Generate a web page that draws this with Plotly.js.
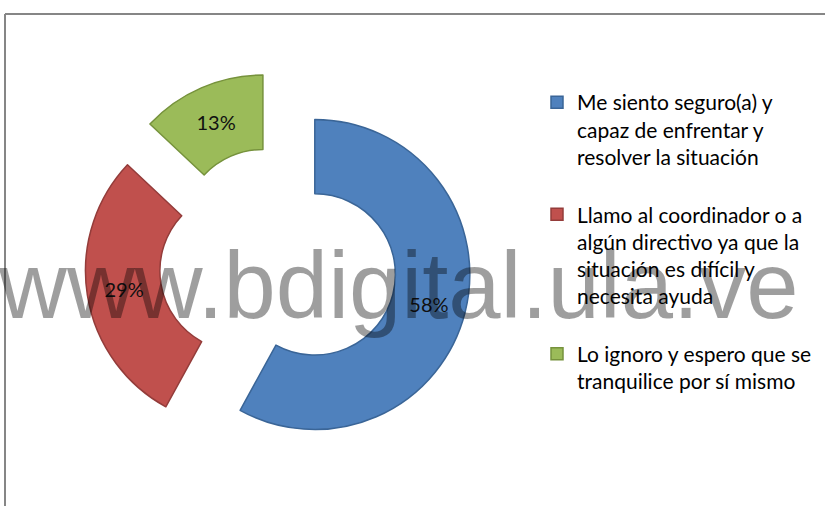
<!DOCTYPE html>
<html>
<head>
<meta charset="utf-8">
<script src="https://cdn.plot.ly/plotly-3.0.1.min.js"></script>
<style>
  html, body { margin: 0; padding: 0; background: #fff; }
  #grafico { width: 825px; height: 506px; }
</style>
</head>
<body>
<div id="grafico"></div>
<script>
// Respuestas de la encuesta (porcentajes)
const categorias = [
    'Me siento seguro(a) y<br>capaz de enfrentar y<br>resolver la situación<br> ',
    'Llamo al coordinador o a<br>algún directivo ya que la<br>situación es difícil y<br>necesita ayuda<br> ',
    'Lo ignoro y espero que se<br>tranquilice por sí mismo'
];
const valores = [58, 29, 13];
const colores = ['#4F81BD', '#C0504D', '#9BBB59'];
const bordes = ['#3A6597', '#943C3A', '#76923C'];

const data = [
    {
        type: 'pie',
        labels: categorias,
        values: valores,
        sort: false,
        direction: 'clockwise',
        rotation: 0,
        hole: 0.52,
        pull: 0.245,
        textinfo: 'percent',
        textposition: 'inside',
        insidetextorientation: 'horizontal',
        textfont: { family: 'Lato', size: 20, color: '#111' },
        marker: {
            colors: colores,
            line: { color: bordes, width: 1.5 }
        },
        domain: { x: [85 / 825, 471 / 825], y: [1 - 458 / 506, 1 - 72 / 506] }
    }
];

const layout = {
    width: 825,
    height: 506,
    margin: { l: 0, r: 0, t: 0, b: 0 },
    paper_bgcolor: '#ffffff',
    showlegend: true,
    legend: {
        x: 537 / 825,
        xanchor: 'left',
        y: 1 - 82 / 506,
        yanchor: 'top',
        valign: 'top',
        font: { family: 'Lato', size: 21, color: '#000' },
        bgcolor: 'rgba(0,0,0,0)'
    },
    shapes: [
        { type: 'line', xref: 'paper', yref: 'paper', x0: 5 / 825, x1: 1, y0: 1 - 14 / 506, y1: 1 - 14 / 506,
          line: { color: '#868686', width: 2 } },
        { type: 'line', xref: 'paper', yref: 'paper', x0: 5 / 825, x1: 5 / 825, y0: 0, y1: 1 - 14 / 506,
          line: { color: '#868686', width: 2 } }
    ],
    annotations: [
        {
            text: 'www.bdigital.ula.ve',
            xref: 'paper', yref: 'paper',
            x: 398 / 825, y: 1 - 285 / 506,
            xanchor: 'center', yanchor: 'middle',
            showarrow: false,
            font: { family: 'Liberation Sans', size: 94, color: 'rgba(0,0,0,0.38)' }
        }
    ]
};

Plotly.newPlot('grafico', data, layout, { displayModeBar: false, staticPlot: true });
</script>
</body>
</html>
